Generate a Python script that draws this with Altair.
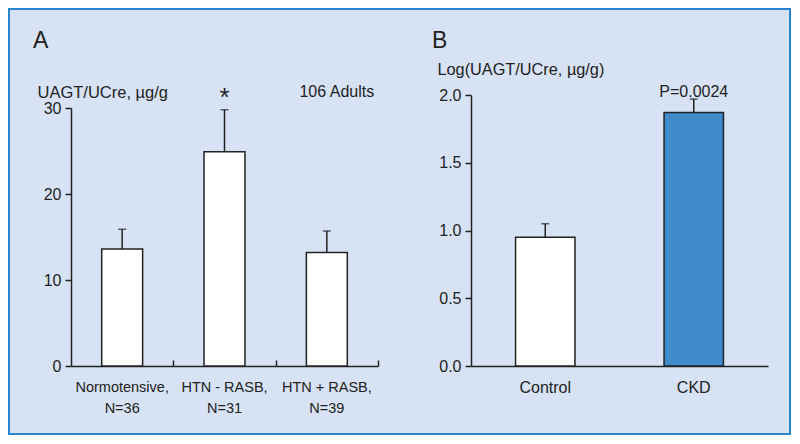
import altair as alt
import pandas as pd

# ---- data ----
catsA = ["Normotensive,|N=36", "HTN - RASB,|N=31", "HTN + RASB,|N=39"]
meanA = [13.6, 24.9, 13.2]
upperA = [15.9, 29.8, 15.7]

catsB = ["Control", "CKD"]
meanB = [0.95, 1.87]
upperB = [1.05, 1.97]
colorsB = ["#ffffff", "#3f8bcb"]

star_cat = ["HTN - RASB,|N=31"]
star_y = [30.2]
adults_cat = ["HTN + RASB,|N=39"]
adults_y = [31.3]
p_cat = ["CKD"]
p_y = [1.985]

FONT = "Liberation Sans"
AXC = "#222222"
BG = "#d7e3f4"
BORDER = "#2a86cc"

dfA = pd.DataFrame({"cat": catsA, "mean": meanA, "upper": upperA})
dfB = pd.DataFrame({"cat": catsB, "mean": meanB, "upper": upperB})
dfStar = pd.DataFrame({"cat": star_cat, "y": star_y, "t": ["*"]})
dfAdults = pd.DataFrame({"cat": adults_cat, "y": adults_y, "t": ["106 Adults"]})
dfP = pd.DataFrame({"cat": p_cat, "y": p_y, "t": ["P=0.0024"]})
dfLA = pd.DataFrame({"t": ["A"]})
dfLB = pd.DataFrame({"t": ["B"]})

common_axis = dict(domainColor=AXC, tickColor=AXC, labelColor=AXC, titleColor=AXC,
                   domainWidth=1.5, tickWidth=1.5, labelFont=FONT, titleFont=FONT,
                   grid=False)

# ---- panel A scales/axes ----
xA_scale = alt.Scale(domain=catsA, range=[62, 369], paddingInner=0.6, paddingOuter=0.3)
yA_scale = alt.Scale(domain=[0, 30], range=[357, 99], nice=False, zero=True)
yA_axis = alt.Axis(orient="left", offset=-62, values=[0, 10, 20, 30], tickSize=6,
                   labelFontSize=16, labelPadding=4,
                   title="UAGT/UCre, µg/g", titleAngle=0, titleAlign="left",
                   titleBaseline="alphabetic", titleX=-34, titleY=88,
                   titleFontSize=16.5, titleFontWeight="normal", **common_axis)
xA_axis = alt.Axis(orient="bottom", offset=-68, ticks=False, labelAngle=0,
                   labelExpr="split(datum.label, '|')", labelFontSize=14.5,
                   labelLineHeight=21, labelPadding=14, title=None, **common_axis)
xA_top = alt.Axis(orient="top", offset=-357, labels=False, domain=False, ticks=True,
                  tickOffset=51.17, tickSize=6, title=None, **common_axis)

barsA = alt.Chart(dfA).mark_bar(fill="white", stroke=AXC, strokeWidth=1.5).encode(
    x=alt.X("cat:N", scale=xA_scale, axis=xA_axis, sort=catsA),
    y=alt.Y("mean:Q", scale=yA_scale, axis=yA_axis),
)
errA = alt.Chart(dfA).mark_rule(color=AXC, strokeWidth=1.5).encode(
    x=alt.X("cat:N", scale=xA_scale, axis=None, sort=catsA),
    y=alt.Y("mean:Q", scale=yA_scale, axis=yA_axis),
    y2="upper:Q",
)
capsA = alt.Chart(dfA).mark_tick(color=AXC, size=8, thickness=1.5, orient="horizontal").encode(
    x=alt.X("cat:N", scale=xA_scale, axis=xA_top, sort=catsA),
    y=alt.Y("upper:Q", scale=yA_scale, axis=yA_axis),
)
starA = alt.Chart(dfStar).mark_text(font=FONT, fontSize=26, color=AXC, baseline="alphabetic").encode(
    x=alt.X("cat:N", scale=xA_scale, axis=None, sort=catsA),
    y=alt.Y("y:Q", scale=yA_scale, axis=yA_axis),
    text="t:N",
)
adultsA = alt.Chart(dfAdults).mark_text(font=FONT, fontSize=16, color=AXC, baseline="alphabetic", dx=10).encode(
    x=alt.X("cat:N", scale=xA_scale, axis=None, sort=catsA),
    y=alt.Y("y:Q", scale=yA_scale, axis=yA_axis),
    text="t:N",
)
letterA = alt.Chart(dfLA).mark_text(font=FONT, fontSize=23, color=AXC, align="left",
                                    baseline="alphabetic").encode(
    x=alt.value(24), y=alt.value(39), text="t:N")

layerA = alt.layer(barsA, errA, capsA, starA, adultsA, letterA).resolve_axis(x="independent")

# ---- panel B ----
xB_scale = alt.Scale(domain=catsB, range=[462, 759], paddingInner=0.6, paddingOuter=0.3)
yB_scale = alt.Scale(domain=[0, 2], range=[357, 86], nice=False, zero=True)
yB_axis = alt.Axis(orient="left", offset=-462, values=[0, 0.5, 1, 1.5, 2], format=".1f",
                   tickSize=6, labelFontSize=16, labelPadding=4,
                   title="Log(UAGT/UCre, µg/g)", titleAngle=0, titleAlign="left",
                   titleBaseline="alphabetic", titleX=-34, titleY=65,
                   titleFontSize=16.3, titleFontWeight="normal", **common_axis)
xB_axis = alt.Axis(orient="bottom", offset=-68, ticks=False, labelAngle=0,
                   labelFontSize=16, labelPadding=13, title=None, **common_axis)

barsB = alt.Chart(dfB).mark_bar(stroke=AXC, strokeWidth=1.5).encode(
    x=alt.X("cat:N", scale=xB_scale, axis=xB_axis, sort=catsB),
    y=alt.Y("mean:Q", scale=yB_scale, axis=yB_axis),
    fill=alt.Fill("cat:N", scale=alt.Scale(domain=catsB, range=colorsB), legend=None),
)
errB = alt.Chart(dfB).mark_rule(color=AXC, strokeWidth=1.5).encode(
    x=alt.X("cat:N", scale=xB_scale, axis=None, sort=catsB),
    y=alt.Y("mean:Q", scale=yB_scale, axis=yB_axis),
    y2="upper:Q",
)
capsB = alt.Chart(dfB).mark_tick(color=AXC, size=8, thickness=1.5, orient="horizontal").encode(
    x=alt.X("cat:N", scale=xB_scale, axis=None, sort=catsB),
    y=alt.Y("upper:Q", scale=yB_scale, axis=yB_axis),
)
pB = alt.Chart(dfP).mark_text(font=FONT, fontSize=16, color=AXC, baseline="alphabetic").encode(
    x=alt.X("cat:N", scale=xB_scale, axis=None, sort=catsB),
    y=alt.Y("y:Q", scale=yB_scale, axis=yB_axis),
    text="t:N",
)
letterB = alt.Chart(dfLB).mark_text(font=FONT, fontSize=23, color=AXC, align="left",
                                    baseline="alphabetic").encode(
    x=alt.value(423), y=alt.value(39), text="t:N")

layerB = alt.layer(barsB, errB, capsB, pB, letterB).resolve_axis(x="independent")

chart = (
    alt.layer(layerA, layerB)
    .resolve_scale(x="independent", y="independent", fill="independent")
    .resolve_axis(x="independent", y="independent")
    .properties(width=781, height=425, padding=1, autosize=alt.AutoSizeParams(type="none"),
                background="white")
    .configure_view(fill=BG, stroke=BORDER, strokeWidth=2)
)

chart.save("out.html", embed_options={"renderer": "svg", "actions": False})
